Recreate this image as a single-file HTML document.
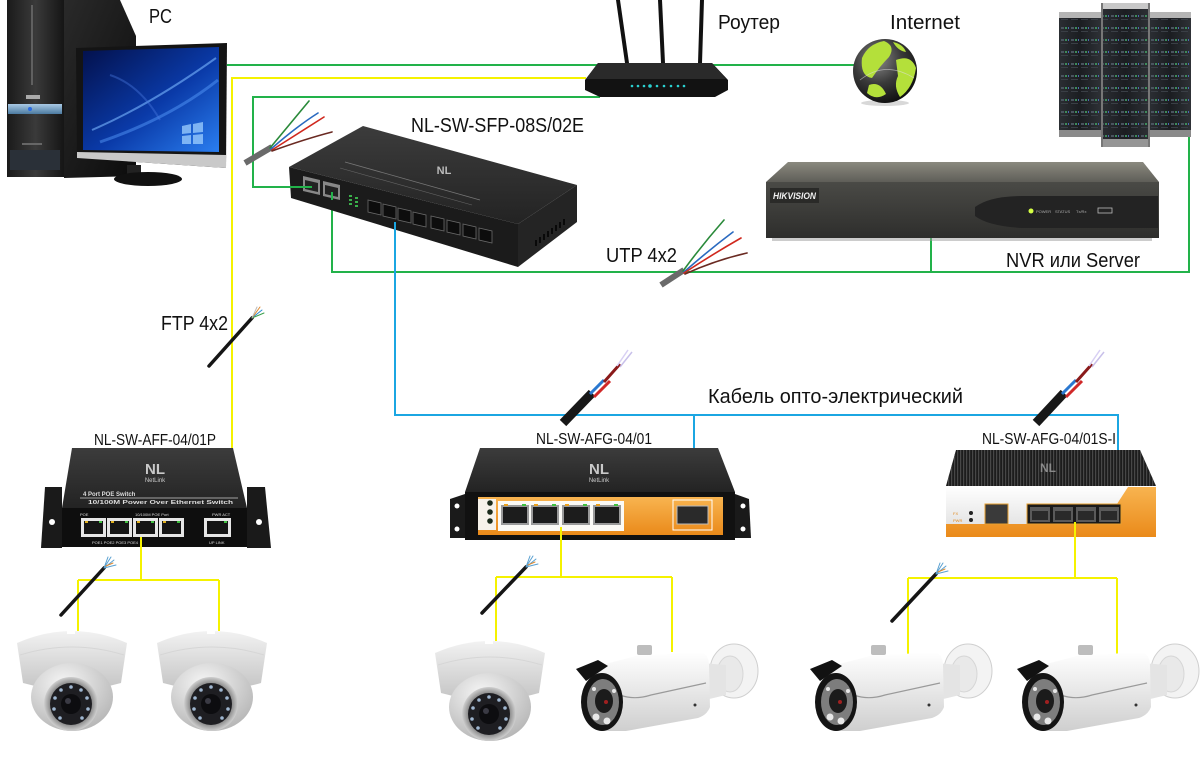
<!DOCTYPE html>
<html><head><meta charset="utf-8">
<style>
html,body{margin:0;padding:0;background:#fff;}
svg{display:block;}
text{font-family:"Liberation Sans","DejaVu Sans",sans-serif;}
</style></head>
<body>
<svg width="1200" height="758" viewBox="0 0 1200 758" xmlns="http://www.w3.org/2000/svg">
<defs>
  <linearGradient id="towerF" x1="0" y1="0" x2="1" y2="0">
    <stop offset="0" stop-color="#1a1a1a"/><stop offset="0.5" stop-color="#3a3a3a"/><stop offset="1" stop-color="#151515"/>
  </linearGradient>
  <linearGradient id="towerS" x1="0" y1="0" x2="1" y2="1">
    <stop offset="0" stop-color="#2a2a2a"/><stop offset="1" stop-color="#0c0c0c"/>
  </linearGradient>
  <linearGradient id="screen" x1="0" y1="0" x2="1" y2="1">
    <stop offset="0" stop-color="#03104a"/><stop offset="0.55" stop-color="#0a3aa8"/><stop offset="1" stop-color="#2a7ef0"/>
  </linearGradient>
  <linearGradient id="band" x1="0" y1="0" x2="0" y2="1">
    <stop offset="0" stop-color="#a9c9e4"/><stop offset="1" stop-color="#4c7aa0"/>
  </linearGradient>
  <radialGradient id="globeG" cx="0.38" cy="0.32" r="0.75">
    <stop offset="0" stop-color="#8a8a8a"/><stop offset="0.5" stop-color="#3a3a3a"/><stop offset="1" stop-color="#0a0a0a"/>
  </radialGradient>
  <linearGradient id="nvrTop" x1="0" y1="0" x2="0" y2="1">
    <stop offset="0" stop-color="#8a897f"/><stop offset="1" stop-color="#5f5e58"/>
  </linearGradient>
  <linearGradient id="nvrFront" x1="0" y1="0" x2="0" y2="1">
    <stop offset="0" stop-color="#4a4a46"/><stop offset="1" stop-color="#2e2e2c"/>
  </linearGradient>
  <linearGradient id="swTop" x1="0" y1="0" x2="0" y2="1">
    <stop offset="0" stop-color="#3c3c3c"/><stop offset="1" stop-color="#232323"/>
  </linearGradient>
  <linearGradient id="orange" x1="0" y1="0" x2="0" y2="1">
    <stop offset="0" stop-color="#f8b450"/><stop offset="1" stop-color="#ea8a1a"/>
  </linearGradient>
  <linearGradient id="whiteP" x1="0" y1="0" x2="0" y2="1">
    <stop offset="0" stop-color="#ffffff"/><stop offset="1" stop-color="#dcdcdc"/>
  </linearGradient>
  <linearGradient id="rack" x1="0" y1="0" x2="1" y2="0">
    <stop offset="0" stop-color="#2b2e33"/><stop offset="0.5" stop-color="#1b1d21"/><stop offset="1" stop-color="#2e3136"/>
  </linearGradient>
  <pattern id="rackL" width="10" height="12" patternUnits="userSpaceOnUse">
    <rect x="1" y="3" width="3" height="2" fill="#4a5560"/>
    <rect x="5" y="3" width="2" height="2" fill="#3d8a5a"/>
    <rect x="1" y="7" width="7" height="1" fill="#3a3f46"/>
    <rect x="8" y="3" width="1" height="2" fill="#4a6ab0"/>
  </pattern>
  <pattern id="ribs" width="3" height="10" patternUnits="userSpaceOnUse">
    <rect x="0" y="0" width="1.2" height="10" fill="#474747"/>
  </pattern>
  <linearGradient id="shell" x1="0" y1="0" x2="0" y2="1">
    <stop offset="0" stop-color="#f2f2f2"/><stop offset="1" stop-color="#c4c4c4"/>
  </linearGradient>
  <radialGradient id="ball" cx="0.4" cy="0.3" r="0.8">
    <stop offset="0" stop-color="#f6f6f6"/><stop offset="1" stop-color="#b0b0b0"/>
  </radialGradient>
  <radialGradient id="ring" cx="0.5" cy="0.5" r="0.5">
    <stop offset="0.7" stop-color="#777"/><stop offset="1" stop-color="#cfcfcf"/>
  </radialGradient>
  <linearGradient id="body" x1="0" y1="0" x2="0" y2="1">
    <stop offset="0" stop-color="#ffffff"/><stop offset="1" stop-color="#cfcfcf"/>
  </linearGradient>

  <g id="dome">
    <path d="M0,18 Q55,-6 110,18 L104,58 Q55,72 6,58 Z" fill="url(#shell)"/>
    <path d="M3,30 Q55,14 107,30" fill="none" stroke="#d6d6d6" stroke-width="1"/>
    <rect x="50" y="2" width="8" height="7" fill="#fff"/>
    <ellipse cx="55" cy="72" rx="41" ry="34" fill="url(#ball)"/>
    <circle cx="54" cy="79" r="27" fill="url(#ring)"/>
    <circle cx="54" cy="79" r="21" fill="#1e1e22"/>
    <g fill="#9fb6d0">
      <circle cx="54" cy="62" r="1.8"/><circle cx="64" cy="65" r="1.8"/><circle cx="70" cy="73" r="1.8"/>
      <circle cx="71" cy="84" r="1.8"/><circle cx="65" cy="93" r="1.8"/><circle cx="44" cy="65" r="1.8"/>
      <circle cx="38" cy="73" r="1.8"/><circle cx="37" cy="84" r="1.8"/><circle cx="43" cy="93" r="1.8"/>
    </g>
    <circle cx="54" cy="79" r="10" fill="#0d0d10"/>
    <circle cx="51" cy="76" r="3" fill="#3a3a44"/>
  </g>

  <g id="bullet">
    <ellipse cx="158" cy="26" rx="24" ry="27" fill="#f3f3f3" stroke="#cfcfcf"/>
    <ellipse cx="154" cy="29" rx="13" ry="18" fill="#e9e9e9" stroke="#d6d6d6"/>
    <path d="M125,18 L150,20 L150,50 L125,56 Z" fill="#e4e4e4"/>
    <path d="M10,24 L60,11 L124,7 Q133,9 133,20 L134,62 Q131,70 122,73 L50,86 L26,86 Z" fill="url(#body)"/>
    <path d="M30,42 Q50,58 75,50 L130,38" fill="none" stroke="#9a9a9a" stroke-width="1.2"/>
    <path d="M0,24 L22,15 L32,21 L10,36 Z" fill="#121212"/>
    <ellipse cx="26" cy="57" rx="21" ry="29" fill="#141414"/>
    <ellipse cx="27" cy="57" rx="16" ry="23" fill="#7d7d7d"/>
    <g fill="#e8e8e8"><circle cx="20" cy="72" r="3.5"/><circle cx="31" cy="76" r="3.5"/><circle cx="38" cy="46" r="2"/><circle cx="18" cy="44" r="2"/></g>
    <ellipse cx="28" cy="56" rx="9" ry="12" fill="#1b1b1b"/>
    <circle cx="30" cy="57" r="2" fill="#a02020"/>
    <rect x="61" y="0" width="15" height="10" rx="2" fill="#bdbdbd"/>
    <circle cx="119" cy="60" r="1.5" fill="#333"/>
  </g>

  <g id="nl">
    <text x="0" y="0" font-size="15" font-weight="bold" fill="#c9c9c9" text-anchor="middle">NL</text>
    <text x="0" y="8" font-size="6" fill="#c9c9c9" text-anchor="middle">NetLink</text>
  </g>
</defs>

<!-- ================= CONNECTOR LINES (behind devices) ================= -->
<g fill="none" stroke-width="2">
  <path d="M227,65 H856" stroke="#22b24a"/>
  <path d="M586,78 H232 V448" stroke="#f5f200"/>
  <path d="M600,97 H253 V187 H312" stroke="#22b24a"/>
  <path d="M332,200 V272 H1189 V137" stroke="#22b24a"/>
  <path d="M931,238 V272" stroke="#22b24a"/>
  <path d="M395,230 V415 H1118 V452" stroke="#1ba6e2"/>
  <path d="M694,415 V450" stroke="#1ba6e2"/>
</g>

<!-- ================= PC ================= -->
<g>
  <polygon points="62,0 120,0 136,36 136,176 64,178" fill="url(#towerS)"/>
  <rect x="7" y="0" width="57" height="177" fill="url(#towerF)"/>
  <line x1="32" y1="5" x2="32" y2="85" stroke="#8a8a8a" stroke-width="1"/>
  <rect x="26" y="95" width="14" height="4" fill="#aaa"/>
  <path d="M8,104 H62 V114 H8 Z" fill="url(#band)"/>
  <circle cx="30" cy="109" r="2" fill="#2a6ae0"/>
  <rect x="10" y="150" width="50" height="20" fill="#2a3038"/>
  <rect x="22" y="143" width="20" height="2" fill="#666"/>
  <polygon points="76,48 227,43 226,168 77,158" fill="#141414"/>
  <polygon points="83,51 219,47 219,152 83,150" fill="url(#screen)"/>
  <path d="M92,130 Q150,105 216,58" fill="none" stroke="#7ab8ff" stroke-width="2" opacity="0.6"/>
  <path d="M100,142 Q170,118 218,80" fill="none" stroke="#5aa0ff" stroke-width="3" opacity="0.45"/>
  <path d="M110,75 Q140,85 160,120" fill="none" stroke="#4a7ae0" stroke-width="2" opacity="0.4"/>
  <g fill="#9fd0ff" opacity="0.75">
    <polygon points="182,126 191,124 191,133 182,134"/><polygon points="193,124 203,122 203,132 193,133"/>
    <polygon points="182,136 191,135 191,144 182,144"/><polygon points="193,135 203,134 203,144 193,144"/>
  </g>
  <polygon points="77,152 226,155 226,168 77,158" fill="#c9c9c9"/>
  <rect x="127" y="165" width="14" height="12" fill="#222"/>
  <ellipse cx="148" cy="179" rx="34" ry="7" fill="#111"/>
</g>
<text x="149" y="23" font-size="20" fill="#111" textLength="23" lengthAdjust="spacingAndGlyphs">PC</text>

<!-- ================= ROUTER ================= -->
<g>
  <polygon points="616,0 620,0 629,63 625,63" fill="#111"/>
  <polygon points="658,0 662,0 665,63 661,63" fill="#111"/>
  <polygon points="700,0 704,0 702,63 698,63" fill="#111"/>
  <polygon points="598,63 712,63 728,80 728,90 715,97 600,97 585,90 585,80" fill="#121212"/>
  <polygon points="598,63 712,63 726,79 586,79" fill="#2a2a2a"/>
  <g fill="#2ad0d0">
    <circle cx="632" cy="86" r="1.3"/><circle cx="638" cy="86" r="1.3"/><circle cx="644" cy="86" r="1.3"/><circle cx="650" cy="86" r="1.8"/>
    <circle cx="657" cy="86" r="1.3"/><circle cx="664" cy="86" r="1.3"/><circle cx="671" cy="86" r="1.3"/><circle cx="678" cy="86" r="1.3"/><circle cx="684" cy="86" r="1.3"/>
  </g>
</g>
<text x="718" y="29" font-size="20" fill="#111" textLength="62" lengthAdjust="spacingAndGlyphs">Роутер</text>

<!-- ================= GLOBE ================= -->
<ellipse cx="885" cy="103" rx="24" ry="3" fill="#d8d8d8"/>
<circle cx="885" cy="71" r="32" fill="url(#globeG)"/>
<g fill="#b4e03a">
  <path d="M862,58 Q868,44 884,41 Q896,46 889,57 Q880,66 872,78 Q860,76 862,58 Z"/>
  <path d="M896,60 Q911,54 916,68 Q913,88 900,97 Q893,86 898,76 Z"/>
  <path d="M869,85 Q880,81 886,94 Q876,101 867,93 Z"/>
  <path d="M893,42 Q903,44 906,52 Q898,51 893,42 Z"/>
</g>
<path d="M860,80 Q885,60 914,78" fill="none" stroke="#ddd" stroke-width="0.8" opacity="0.6"/>
<text x="890" y="29" font-size="20" fill="#111" textLength="70" lengthAdjust="spacingAndGlyphs">Internet</text>

<!-- ================= SERVERS ================= -->
<g>
  <rect x="1059" y="12" width="42" height="125" fill="url(#rack)"/>
  <rect x="1059" y="12" width="42" height="125" fill="url(#rackL)"/>
  <rect x="1059" y="12" width="42" height="6" fill="#b5b5b5"/>
  <rect x="1059" y="130" width="42" height="7" fill="#8a8a8a"/>
  <rect x="1150" y="12" width="41" height="125" fill="url(#rack)"/>
  <rect x="1150" y="12" width="41" height="125" fill="url(#rackL)"/>
  <rect x="1150" y="12" width="41" height="6" fill="#b5b5b5"/>
  <rect x="1150" y="130" width="41" height="7" fill="#8a8a8a"/>
  <rect x="1101" y="3" width="49" height="144" fill="url(#rack)"/>
  <rect x="1101" y="3" width="49" height="144" fill="url(#rackL)"/>
  <rect x="1101" y="3" width="49" height="6" fill="#c8c8c8"/>
  <rect x="1101" y="139" width="49" height="8" fill="#959595"/>
  <rect x="1101" y="3" width="2" height="144" fill="#777"/>
  <rect x="1148" y="3" width="2" height="144" fill="#777"/>
</g>

<!-- ================= NVR ================= -->
<g>
  <rect x="772" y="236" width="380" height="5" fill="#9a9a9a" opacity="0.5"/>
  <polygon points="788,162 1143,162 1159,182 766,182" fill="url(#nvrTop)"/>
  <rect x="766" y="182" width="393" height="56" fill="url(#nvrFront)"/>
  <path d="M975,207 Q990,196 1022,196 L1158,196 L1158,228 L1022,228 Q988,226 975,216 Z" fill="#232323"/>
  <circle cx="1031" cy="211" r="2.5" fill="#d4ff44"/>
  <text x="1036" y="213" font-size="4" fill="#aaa">POWER</text>
  <text x="1055" y="213" font-size="4" fill="#aaa">STATUS</text>
  <text x="1076" y="213" font-size="4" fill="#aaa">Tx/Rx</text>
  <rect x="1098" y="208" width="14" height="5" fill="none" stroke="#bbb" stroke-width="0.8"/>
  <rect x="770" y="188" width="49" height="15" fill="#2a2a28"/>
  <text x="773" y="199" font-size="9" font-weight="bold" font-style="italic" fill="#f0f0f0" textLength="43" lengthAdjust="spacingAndGlyphs">HIKVISION</text>
</g>
<text x="1006" y="267" font-size="20" fill="#111" textLength="134" lengthAdjust="spacingAndGlyphs">NVR или Server</text>

<!-- ================= FIBER SWITCH NL-SW-SFP-08S/02E ================= -->
<g>
  <polygon points="289,167 363,126 577,185 518,224" fill="url(#swTop)"/>
  <polygon points="289,167 518,224 518,267 291,198" fill="#1b1b1b"/>
  <polygon points="518,224 577,185 577,222 518,267" fill="#242424"/>
  <g stroke="#000" stroke-width="1.5">
    <line x1="536" y1="240" x2="536" y2="246"/><line x1="540" y1="237" x2="540" y2="243"/><line x1="544" y1="234" x2="544" y2="240"/>
    <line x1="548" y1="231" x2="548" y2="237"/><line x1="552" y1="228" x2="552" y2="234"/><line x1="556" y1="225" x2="556" y2="231"/>
    <line x1="560" y1="222" x2="560" y2="228"/><line x1="564" y1="219" x2="564" y2="225"/>
  </g>
  <line x1="345" y1="162" x2="480" y2="200" stroke="#777" stroke-width="0.8"/>
  <line x1="340" y1="168" x2="472" y2="205" stroke="#666" stroke-width="0.6"/>
  <text x="444" y="174" font-size="11" font-weight="bold" fill="#bbb" text-anchor="middle">NL</text>
  <polygon points="303,176 320,180 320,195 303,191" fill="#888"/>
  <polygon points="305,180 318,183 318,192 305,189" fill="#222"/>
  <polygon points="323,181 340,185 340,200 323,196" fill="#888"/>
  <polygon points="325,185 338,188 338,197 325,194" fill="#222"/>
  <g fill="#3ab04a"><rect x="349" y="195" width="3" height="2"/><rect x="349" y="199" width="3" height="2"/><rect x="349" y="203" width="3" height="2"/><rect x="355" y="197" width="3" height="2"/><rect x="355" y="201" width="3" height="2"/><rect x="355" y="205" width="3" height="2"/></g>
  <g fill="#0d0d0d" stroke="#6a6a6a" stroke-width="0.8">
    <polygon points="368,200 381,203 381,215 368,212"/>
    <polygon points="383,204 396,207 396,219 383,216"/>
    <polygon points="398,208 411,211 411,223 398,220"/>
    <polygon points="413,212 426,215 426,227 413,224"/>
    <polygon points="431,216 444,219 444,231 431,228"/>
    <polygon points="447,220 460,223 460,235 447,232"/>
    <polygon points="463,224 476,227 476,239 463,236"/>
    <polygon points="479,228 492,231 492,243 479,240"/>
  </g>
</g>
<text x="411" y="132" font-size="20" fill="#111" textLength="173" lengthAdjust="spacingAndGlyphs">NL-SW-SFP-08S/02E</text>
<g fill="none" stroke-width="2">
  <path d="M253,187 H312" stroke="#22b24a"/>
  <path d="M332,192 V200" stroke="#22b24a"/>
  <path d="M395,222 V232" stroke="#1ba6e2"/>
</g>

<!-- UTP cable 1 -->
<g fill="none" stroke-linecap="round">
  <line x1="245" y1="163" x2="272" y2="147" stroke="#6a6a6a" stroke-width="6" stroke-linecap="butt"/>
  <path d="M270,148 Q290,124 309,101" stroke="#2a8a3a" stroke-width="1.6"/>
  <path d="M271,149 Q296,127 318,113" stroke="#2a6ac0" stroke-width="1.6"/>
  <path d="M272,150 Q299,133 324,117" stroke="#d0281e" stroke-width="1.6"/>
  <path d="M272,151 Q305,139 332,132" stroke="#6a2a22" stroke-width="1.6"/>
</g>
<!-- UTP cable 2 -->
<g fill="none" stroke-linecap="round">
  <line x1="661" y1="285" x2="684" y2="270" stroke="#6a6a6a" stroke-width="6" stroke-linecap="butt"/>
  <path d="M683,271 Q702,245 724,220" stroke="#2a8a3a" stroke-width="1.6"/>
  <path d="M684,272 Q709,250 733,232" stroke="#2a6ac0" stroke-width="1.6"/>
  <path d="M684,273 Q713,254 741,238" stroke="#d0281e" stroke-width="1.6"/>
  <path d="M685,274 Q716,260 747,253" stroke="#6a2a22" stroke-width="1.6"/>
</g>
<text x="606" y="262" font-size="20" fill="#111" textLength="71" lengthAdjust="spacingAndGlyphs">UTP 4x2</text>

<!-- FTP cable (upper) -->
<g fill="none" stroke-linecap="round">
  <line x1="209" y1="366" x2="252" y2="318" stroke="#151515" stroke-width="3.5"/>
  <path d="M252,318 L262,310" stroke="#2a8ad0" stroke-width="1"/>
  <path d="M252,318 L260,307" stroke="#e08a30" stroke-width="1"/>
  <path d="M252,318 L264,313" stroke="#3aa04a" stroke-width="1"/>
  <path d="M252,318 L257,307" stroke="#bbb" stroke-width="1"/>
</g>
<text x="161" y="330" font-size="20" fill="#111" textLength="67" lengthAdjust="spacingAndGlyphs">FTP 4x2</text>

<!-- Fiber cable 1 -->
<g fill="none">
  <line x1="563" y1="423" x2="592" y2="393" stroke="#181818" stroke-width="9"/>
  <line x1="590" y1="394" x2="604" y2="380" stroke="#2a78d0" stroke-width="3"/>
  <line x1="594" y1="397" x2="610" y2="381" stroke="#d02828" stroke-width="3"/>
  <line x1="604" y1="382" x2="620" y2="364" stroke="#8a1a1a" stroke-width="3"/>
  <line x1="617" y1="366" x2="628" y2="350" stroke="#d8d0f4" stroke-width="1.5"/>
  <line x1="620" y1="367" x2="632" y2="352" stroke="#c8c0ea" stroke-width="1.5"/>
</g>
<!-- Fiber cable 2 -->
<g fill="none">
  <line x1="1036" y1="423" x2="1064" y2="393" stroke="#181818" stroke-width="9"/>
  <line x1="1062" y1="394" x2="1076" y2="380" stroke="#2a78d0" stroke-width="3"/>
  <line x1="1066" y1="397" x2="1082" y2="381" stroke="#d02828" stroke-width="3"/>
  <line x1="1076" y1="382" x2="1092" y2="364" stroke="#8a1a1a" stroke-width="3"/>
  <line x1="1089" y1="366" x2="1100" y2="350" stroke="#d8d0f4" stroke-width="1.5"/>
  <line x1="1092" y1="367" x2="1104" y2="352" stroke="#c8c0ea" stroke-width="1.5"/>
</g>
<text x="708" y="403" font-size="20" fill="#111" textLength="255" lengthAdjust="spacingAndGlyphs">Кабель опто-электрический</text>

<!-- ================= SWITCH NL-SW-AFF-04/01P ================= -->
<text x="94" y="445" font-size="16" fill="#111" textLength="122" lengthAdjust="spacingAndGlyphs">NL-SW-AFF-04/01P</text>
<g>
  <polygon points="45,487 62,487 62,548 41,548" fill="#1a1a1a"/>
  <circle cx="52" cy="522" r="3" fill="#fff"/>
  <polygon points="247,487 265,487 271,548 247,548" fill="#1a1a1a"/>
  <circle cx="259" cy="522" r="3" fill="#fff"/>
  <polygon points="72,448 233,448 247,508 62,508" fill="url(#swTop)"/>
  <rect x="62" y="508" width="185" height="39" fill="#0e0e0e"/>
  <use href="#nl" x="155" y="474"/>
  <text x="83" y="496" font-size="6" font-weight="bold" fill="#ddd" font-family="Liberation Serif, serif">4 Port POE Switch</text>
  <line x1="80" y1="498" x2="238" y2="498" stroke="#ccc" stroke-width="0.7"/>
  <text x="88" y="504" font-size="5" font-weight="bold" fill="#ddd" font-family="Liberation Serif, serif" textLength="145" lengthAdjust="spacingAndGlyphs">10/100M Power Over Ethernet Switch</text>
  <text x="80" y="516" font-size="4" fill="#ddd">POE</text>
  <text x="135" y="516" font-size="4" fill="#ddd">10/100M POE Port</text>
  <text x="212" y="516" font-size="4" fill="#ddd">PWR  ACT</text>
  <g>
    <rect x="81" y="518" width="25" height="19" fill="#e6e6e6"/><rect x="84" y="521" width="19" height="13" fill="#151515"/>
    <rect x="107" y="518" width="25" height="19" fill="#e6e6e6"/><rect x="110" y="521" width="19" height="13" fill="#151515"/>
    <rect x="133" y="518" width="25" height="19" fill="#e6e6e6"/><rect x="136" y="521" width="19" height="13" fill="#151515"/>
    <rect x="159" y="518" width="25" height="19" fill="#e6e6e6"/><rect x="162" y="521" width="19" height="13" fill="#151515"/>
    <rect x="204" y="518" width="27" height="19" fill="#e6e6e6"/><rect x="207" y="521" width="21" height="13" fill="#151515"/>
  </g>
  <g fill="#e0b020"><rect x="85" y="521" width="3" height="2"/><rect x="111" y="521" width="3" height="2"/><rect x="137" y="521" width="3" height="2"/><rect x="163" y="521" width="3" height="2"/></g>
  <g fill="#40c040"><rect x="99" y="521" width="3" height="2"/><rect x="125" y="521" width="3" height="2"/><rect x="151" y="521" width="3" height="2"/><rect x="177" y="521" width="3" height="2"/><rect x="224" y="521" width="3" height="2"/></g>
  <text x="92" y="544" font-size="4" fill="#ddd">POE1    POE2    POE3    POE4</text>
  <text x="209" y="544" font-size="4" fill="#ddd">UP LINK</text>
</g>

<!-- ================= SWITCH NL-SW-AFG-04/01 ================= -->
<text x="536" y="444" font-size="16" fill="#111" textLength="116" lengthAdjust="spacingAndGlyphs">NL-SW-AFG-04/01</text>
<g>
  <polygon points="450,499 465,494 465,538 450,538" fill="#1a1a1a"/>
  <circle cx="457" cy="506" r="2.5" fill="#fff"/><circle cx="457" cy="529" r="2.5" fill="#fff"/>
  <polygon points="735,494 749,499 751,538 735,538" fill="#1a1a1a"/>
  <circle cx="743" cy="506" r="2.5" fill="#fff"/><circle cx="743" cy="529" r="2.5" fill="#fff"/>
  <polygon points="480,448 718,448 735,492 465,492" fill="url(#swTop)"/>
  <rect x="465" y="492" width="270" height="48" fill="#111"/>
  <use href="#nl" x="599" y="474"/>
  <rect x="478" y="497" width="245" height="38" fill="url(#orange)"/>
  <rect x="478" y="499" width="18" height="31" fill="#f6f2ea"/>
  <circle cx="490" cy="503" r="2.8" fill="#1a2a1a"/><circle cx="490" cy="512" r="2.8" fill="#1a2a1a"/><circle cx="490" cy="521" r="2.8" fill="#1a2a1a"/>
  <rect x="498" y="501" width="126" height="30" fill="#fbfaf6"/>
  <g>
    <rect x="501" y="505" width="28" height="20" fill="#9a9a9a"/><rect x="503" y="507" width="24" height="16" fill="#1c1c1c"/>
    <rect x="531" y="505" width="28" height="20" fill="#9a9a9a"/><rect x="533" y="507" width="24" height="16" fill="#1c1c1c"/>
    <rect x="562" y="505" width="28" height="20" fill="#9a9a9a"/><rect x="564" y="507" width="24" height="16" fill="#1c1c1c"/>
    <rect x="593" y="505" width="28" height="20" fill="#9a9a9a"/><rect x="595" y="507" width="24" height="16" fill="#1c1c1c"/>
  </g>
  <g fill="#e8a020"><rect x="504" y="504" width="4" height="2"/><rect x="534" y="504" width="4" height="2"/><rect x="565" y="504" width="4" height="2"/><rect x="596" y="504" width="4" height="2"/></g>
  <g fill="#40c040"><rect x="522" y="504" width="4" height="2"/><rect x="552" y="504" width="4" height="2"/><rect x="583" y="504" width="4" height="2"/><rect x="614" y="504" width="4" height="2"/></g>
  <rect x="673" y="500" width="39" height="30" fill="none" stroke="#fff" stroke-width="1"/>
  <rect x="677" y="506" width="31" height="18" fill="#2a2a2a" stroke="#bbb" stroke-width="1"/>
</g>

<!-- ================= SWITCH NL-SW-AFG-04/01S-I ================= -->
<text x="982" y="444" font-size="16" fill="#111" textLength="134" lengthAdjust="spacingAndGlyphs">NL-SW-AFG-04/01S-I</text>
<g>
  <polygon points="956,450 1140,450 1156,486 946,486" fill="#1c1c1c"/>
  <polygon points="956,450 1140,450 1156,486 946,486" fill="url(#ribs)"/>
  <text x="1048" y="472" font-size="12" font-weight="bold" fill="#8a8a8a" text-anchor="middle">NL</text>
  <rect x="946" y="486" width="210" height="51" fill="url(#whiteP)"/>
  <polygon points="1128,487 1156,487 1156,537 946,537 946,524 1104,524" fill="url(#orange)"/>
  <text x="953" y="515" font-size="4" fill="#e08a20">FX</text>
  <text x="953" y="522" font-size="4" fill="#e08a20">PWR</text>
  <circle cx="971" cy="513" r="2" fill="#222"/><circle cx="971" cy="520" r="2" fill="#222"/>
  <rect x="985" y="504" width="23" height="20" fill="#3a3a3a" stroke="#e8a030" stroke-width="1"/>
  <rect x="1027" y="504" width="94" height="20" fill="#1a1a1a" stroke="#e8a030" stroke-width="1"/>
  <g fill="#5a5a5a">
    <rect x="1030" y="507" width="20" height="15"/><rect x="1053" y="507" width="20" height="15"/>
    <rect x="1076" y="507" width="20" height="15"/><rect x="1099" y="507" width="20" height="15"/>
  </g>
  <g fill="#2a2a2a">
    <rect x="1032" y="511" width="16" height="9"/><rect x="1055" y="511" width="16" height="9"/>
    <rect x="1078" y="511" width="16" height="9"/><rect x="1101" y="511" width="16" height="9"/>
  </g>
</g>

<!-- ================= CAMERA FEED LINES ================= -->
<g fill="none" stroke="#f5f200" stroke-width="2">
  <path d="M141,537 V580 M78,580 H219 M78,580 V631 M219,580 V631"/>
  <path d="M561,527 V577 M496,577 H672 M496,577 V641 M672,577 V652"/>
  <path d="M1075,522 V578 M908,578 H1117 M908,578 V654 M1117,578 V654"/>
</g>

<!-- FTP cables near cameras -->
<g fill="none" stroke-linecap="round">
  <line x1="61" y1="615" x2="104" y2="568" stroke="#151515" stroke-width="3.5"/>
  <path d="M104,568 L114,560 M104,568 L111,557 M104,568 L116,565 M104,568 L108,557" stroke="#5aa0d0" stroke-width="1"/>
  <line x1="482" y1="613" x2="526" y2="567" stroke="#151515" stroke-width="3.5"/>
  <path d="M526,567 L536,559 M526,567 L533,556 M526,567 L538,564 M526,567 L530,556" stroke="#5aa0d0" stroke-width="1"/>
  <line x1="892" y1="621" x2="936" y2="574" stroke="#151515" stroke-width="3.5"/>
  <path d="M936,574 L946,566 M936,574 L943,563 M936,574 L948,571 M936,574 L940,563" stroke="#5aa0d0" stroke-width="1"/>
  <path d="M106,566 L113,563 M528,565 L535,562 M938,572 L945,569" stroke="#e08a30" stroke-width="1"/>
</g>

<!-- ================= CAMERAS ================= -->
<use href="#dome" x="17" y="625"/>
<use href="#dome" x="157" y="625"/>
<use href="#dome" x="435" y="635"/>
<use href="#bullet" x="576" y="645"/>
<use href="#bullet" x="810" y="645"/>
<use href="#bullet" x="1017" y="645"/>

</svg>
</body>
</html>
